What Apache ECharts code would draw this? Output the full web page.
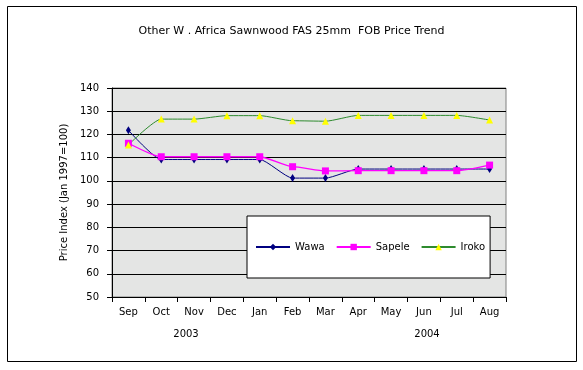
<!DOCTYPE html>
<html><head><meta charset="utf-8">
<script src="https://cdn.jsdelivr.net/npm/echarts@6/dist/echarts.min.js"></script>
<style>html,body{margin:0;padding:0;background:#fff}#c{width:583px;height:370px}</style>
</head><body><div id="c"></div>
<script>
const months = ['Sep','Oct','Nov','Dec','Jan','Feb','Mar','Apr','May','Jun','Jul','Aug'];
const years = ['2003','2004'];
const yTicks = [50,60,70,80,90,100,110,120,130,140];
const wawa   = [121.8,109.2,109.2,109.2,109.2,101.2,101.2,105.1,105.1,105.1,105.1,105.1];
const sapele = [116.2,110.4,110.4,110.4,110.4,106.1,104.3,104.4,104.4,104.4,104.4,106.8];
const iroko  = [115.5,126.6,126.6,128.1,128.1,125.9,125.7,128.2,128.2,128.2,128.2,126.2];

const FF = 'DejaVu Sans, Verdana, sans-serif';
const chart = echarts.init(document.getElementById('c'), null, {renderer:'canvas'});
chart.setOption({
  animation:false,
  backgroundColor:'#fff',
  title:{text:'Other W . Africa Sawnwood FAS 25mm  FOB Price Trend', left:'center', top:21,
    textStyle:{fontFamily:FF, fontSize:11, fontWeight:'normal', color:'#000'}},
  grid:{left:112, right:77, top:88, bottom:73, show:true, backgroundColor:'#E4E5E4', borderColor:'#808080', borderWidth:1},
  legend:{left:247, top:216, orient:'horizontal', backgroundColor:'#fff', borderColor:'#000', borderWidth:1,
    padding:[26,5,26,8], itemWidth:34, itemHeight:8, itemGap:11,
    textStyle:{fontFamily:FF, fontSize:10, color:'#000'},
    data:['Wawa','Sapele','Iroko']},
  xAxis:{type:'category', data:months, boundaryGap:true,
    axisLine:{lineStyle:{color:'#000', width:1}},
    axisTick:{show:true, length:5, lineStyle:{color:'#000'}},
    axisLabel:{fontFamily:FF, fontSize:10, color:'#000', margin:10}},
  yAxis:{type:'value', min:50, max:140, interval:10,
    name:'Price Index (Jan 1997=100)', nameLocation:'middle', nameGap:32,
    nameTextStyle:{fontFamily:FF, fontSize:10, color:'#000'},
    axisLine:{show:true, lineStyle:{color:'#000', width:1}},
    axisTick:{show:true, length:5, lineStyle:{color:'#000'}},
    splitLine:{show:true, lineStyle:{color:'#000', width:1}},
    axisLabel:{fontFamily:FF, fontSize:10, color:'#000', margin:13,
      formatter:v=>yTicks.includes(v)?String(v):''}},
  series:[
    {name:'Wawa', type:'line', data:wawa, smooth:0.2, smoothMonotone:'x',
      symbol:'diamond', symbolSize:[5,8], itemStyle:{color:'#000080'},
      lineStyle:{color:'#000080', width:1}},
    {name:'Sapele', type:'line', data:sapele, smooth:0.2, smoothMonotone:'x',
      symbol:'rect', symbolSize:7, itemStyle:{color:'#FF00FF'},
      lineStyle:{color:'#FF00FF', width:1.3}},
    {name:'Iroko', type:'line', data:iroko, smooth:0.2, smoothMonotone:'x',
      symbol:'triangle', symbolSize:7, itemStyle:{color:'#FFFF00'},
      lineStyle:{color:'#2E8B2E', width:1}}
  ],
  graphic:[
    {type:'rect', shape:{x:7.5, y:6.5, width:569, height:355}, style:{fill:'none', stroke:'#000', lineWidth:1}, silent:true, z:-1},
    {type:'text', x:186, y:334, style:{text:years[0], fontFamily:FF, fontSize:10, fill:'#000', textAlign:'center', textVerticalAlign:'middle'}},
    {type:'text', x:427, y:334, style:{text:years[1], fontFamily:FF, fontSize:10, fill:'#000', textAlign:'center', textVerticalAlign:'middle'}}
  ]
});
</script></body></html>
